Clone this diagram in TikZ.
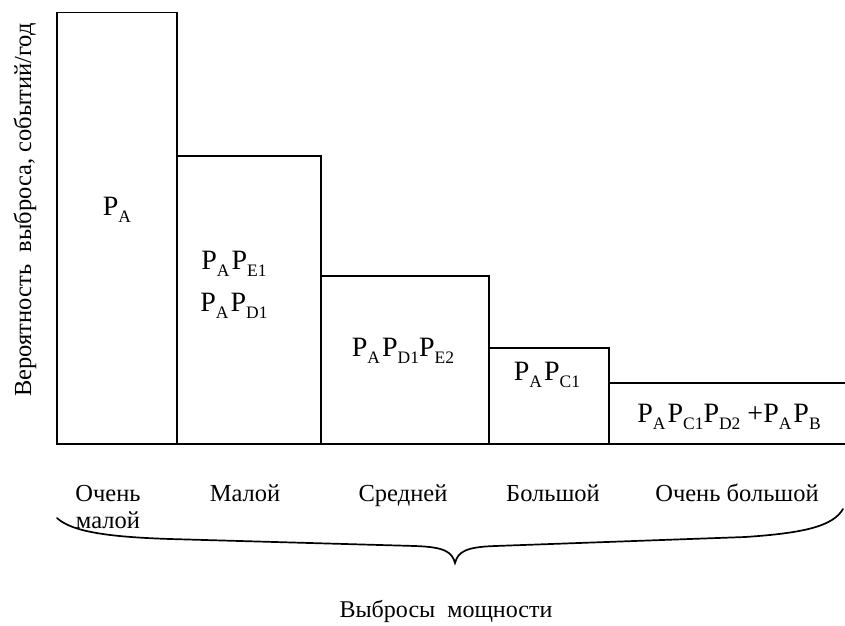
\documentclass[tikz,border=0pt]{standalone}
\usepackage{fontspec}
\setmainfont{Liberation Serif}
% probability symbol with a lowered index
\newcommand\Pv[1]{P\raisebox{-7.5pt}{\fontsize{17.5}{17.5}\selectfont #1}}
\begin{document}
\begin{tikzpicture}[x=1pt,y=-1pt,
  bar/.style={line width=1.8pt, line join=miter},
  prob/.style={inner sep=0pt, anchor=base, font=\fontsize{28}{32}\selectfont},
  cat/.style={inner sep=0pt, anchor=base, font=\fontsize{24.5}{28}\selectfont},
  brace/.style={line width=1.7pt, line cap=round}
]
\useasboundingbox (0,0) rectangle (845,625);

% bars of release probability
\draw[bar] (57,444) rectangle (177,12.5);
\draw[bar] (177,444) rectangle (321,156);
\draw[bar] (321,444) rectangle (489,276);
\draw[bar] (489,444) rectangle (609,348);
\draw[bar] (609,383) -- (846,383);
\draw[bar] (57,444) -- (846,444);

% probabilities inside the bars
\node[prob] (pa)    at (117,215) {\Pv{A}};
\node[prob] (pae)   at (234,269) {\Pv{A}\hspace{2pt}\Pv{E1}};
\node[prob] (pad)   at (234,311) {\Pv{A}\hspace{2pt}\Pv{D1}};
\node[prob] (pade)  at (403,356) {\Pv{A}\hspace{2pt}\Pv{D1}\Pv{E2}};
\node[prob] (pac)   at (547,380) {\Pv{A}\hspace{2pt}\Pv{C1}};
\node[prob] (pacdb) at (729,422) {\Pv{A}\hspace{2pt}\Pv{C1}\Pv{D2} +\Pv{A}\hspace{2pt}\Pv{B}};

% axis title
\node[cat, rotate=90, font=\fontsize{24.5}{28}\selectfont] (ylab) at (31,210) {Вероятность\ \ выброса, событий/год};

% power categories
\node[cat] (c1a) at (108,501) {Очень};
\node[cat] (c1b) at (108,528) {малой};
\node[cat] (c2)  at (245,501) {Малой};
\node[cat] (c3)  at (403,501) {Средней};
\node[cat] (c4)  at (553,501) {Большой};
\node[cat] (c5)  at (737,501) {Очень большой};

% grouping brace
\coordinate (bl) at (57,518);
\coordinate (bt) at (455,563);
\coordinate (br) at (843,509);
\draw[brace] (bl) .. controls (72,532) and (110,537) .. (170,539)
  -- (415,546) .. controls (445,547) and (452,552) .. (bt)
  .. controls (458,552) and (465,547) .. (495,546)
  -- (745,537) .. controls (805,533) and (833,526) .. (br);

\node[cat, font=\fontsize{24}{28}\selectfont] (xlab) at (446,617) {Выбросы\ \ мощности};
\end{tikzpicture}
\end{document}
